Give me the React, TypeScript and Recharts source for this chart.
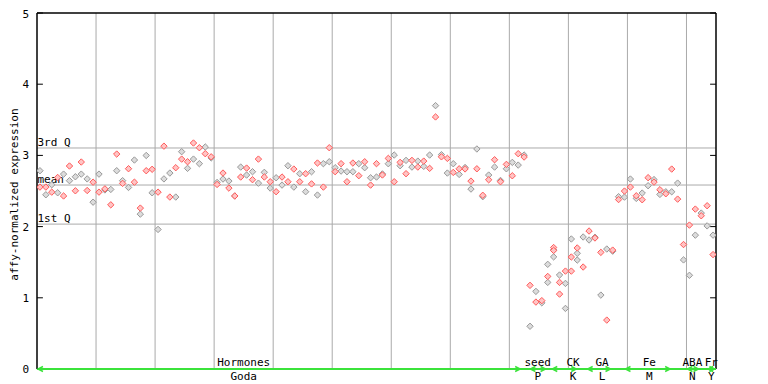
import React from 'react';
import { ScatterChart, Scatter, XAxis, YAxis, ReferenceLine, ReferenceDot } from 'recharts';

// one gray and one red sample per column (column index = position in array)
const grayValues = [
  2.785, 2.447, 2.588, 2.475, 2.737, 2.645, 2.70, 2.737, 2.67, 2.343,
  2.737, 2.515, 2.522, 2.785, 2.645, 2.55, 2.935, 2.175, 2.999, 2.475,
  1.96, 2.67, 2.752, 2.415, 3.052, 2.818, 2.948, 2.884, 3.118, 2.965,
  2.62, 2.668, 2.64, 2.43, 2.836, 2.724, 2.771, 2.61, 2.762, 2.541,
  2.686, 2.583, 2.855, 2.555, 2.743, 2.49, 2.771, 2.443, 2.884, 2.911,
  2.827, 2.78, 2.771, 2.771, 2.884, 2.827, 2.686, 2.696, 2.74, 2.883,
  3.005, 2.855, 2.93, 2.836, 2.92, 2.846, 3.005, 3.699, 3.01, 2.752,
  2.883, 2.733, 2.83, 2.527, 3.09, 2.42, 2.724, 2.836, 2.648, 2.812,
  2.902, 2.864, 3.005, 0.60, 1.09, 0.93, 1.47, 1.672, 1.32, 1.202,
  1.826, 1.625, 1.854, 1.812, 1.85, 1.038, 1.685, 1.655, 2.42, 2.414,
  2.668, 2.396, 2.471, 2.574, 2.66, 2.452, 2.489, 2.489, 2.611, 1.532,
  1.316, 1.88, 2.19, 2.01, 1.88,
];
const redValues = [
  2.555, 2.555, 2.484, 2.69, 2.43, 2.851, 2.503, 2.907, 2.507, 2.624,
  2.484, 2.53, 2.306, 3.019, 2.607, 2.813, 2.624, 2.26, 2.785, 2.805,
  2.484, 3.13, 2.415, 2.827, 2.948, 2.911, 3.174, 3.108, 3.024, 2.98,
  2.592, 2.752, 2.541, 2.43, 2.696, 2.822, 2.659, 2.948, 2.696, 2.63,
  2.49, 2.696, 2.63, 2.808, 2.63, 2.743, 2.60, 2.893, 2.555, 3.108,
  2.771, 2.884, 2.63, 2.893, 2.715, 2.911, 2.583, 2.884, 2.725, 2.958,
  2.63, 2.902, 2.743, 2.93, 2.836, 2.92, 2.818, 3.54, 2.98, 2.958,
  2.761, 2.812, 2.81, 2.639, 2.812, 2.44, 2.658, 2.939, 2.63, 2.874,
  2.714, 3.024, 2.977, 1.175, 0.94, 0.96, 1.30, 1.706, 1.216, 1.375,
  1.573, 1.70, 1.432, 1.938, 1.84, 1.638, 0.687, 1.67, 2.38, 2.499,
  2.555, 2.433, 2.377, 2.687, 2.625, 2.518, 2.461, 2.808, 2.386, 1.748,
  2.021, 2.246, 2.152, 2.293, 1.607,
];
// additional samples in the CK columns
const extraGrayIndex = [86, 87, 89, 91];
const extraGrayValues = [1.216, 1.575, 0.851, 1.53];
const extraRedIndex = [87, 88, 90];
const extraRedValues = [1.665, 1.052, 1.375];

// summary lines
const statNames = ['3rd Q', 'mean', '1st Q'];
const statValues = [3.104, 2.584, 2.035];

// experiment groups along the bottom
const groupTop = ['Hormones', 'seed', 'CK', 'GA', 'Fe', 'ABA', 'Fr'];
const groupBottom = ['Goda', 'P', 'K', 'L', 'M', 'N', 'Y'];
const groupStart = [-0.5, 82.9, 86.6, 92.6, 99.0, 109.5, 113.0];
const groupEnd = [81.5, 85.8, 91.0, 96.8, 106.9, 111.7, 114.4];
const groupLabelAt = [34.5, 84.3, 90.3, 95.2, 103.2, 110.5, 113.7];

const yTicks = [0, 1, 2, 3, 4, 5];
const X_MIN = -0.5;
const X_MAX = grayValues.length - 0.5;
const gridAt = [9.5, 19.5, 29.5, 39.5, 49.5, 59.5, 69.5, 79.5, 89.5, 99.5, 109.5];

const FONT = '"DejaVu Sans Mono", "Liberation Mono", monospace';
const GREEN = '#3be33b';

const grayData = [
  ...grayValues.map((v, i) => ({ x: i, y: v })),
  ...extraGrayIndex.map((x, k) => ({ x, y: extraGrayValues[k] })),
];
const redData = [
  ...redValues.map((v, i) => ({ x: i, y: v })),
  ...extraRedIndex.map((x, k) => ({ x, y: extraRedValues[k] })),
];

const makeDiamond = (stroke: string, fill: string) => (props: any) => {
  const { cx, cy } = props;
  if (cx == null || cy == null) return <g />;
  const r = 3.2;
  return (
    <polygon
      points={`${cx},${cy - r} ${cx + r},${cy} ${cx},${cy + r} ${cx - r},${cy}`}
      stroke={stroke}
      strokeWidth={1}
      fill={fill}
    />
  );
};

const GrayDiamond = makeDiamond('#999999', '#dcdcdc');
const RedDiamond = makeDiamond('#ff5a5a', '#ffc4c4');

export default function App() {
  return (
    <ScatterChart width={760} height={376} margin={{ top: 5, right: 52, bottom: 15, left: 0 }}>
      <XAxis type="number" dataKey="x" domain={[X_MIN, X_MAX]} allowDataOverflow hide height={0} />
      <YAxis
        type="number"
        dataKey="y"
        domain={[0, 5]}
        ticks={yTicks}
        allowDataOverflow
        width={29}
        tickLine={false}
        axisLine={{ stroke: '#000', strokeWidth: 1.5 }}
        tick={{ fill: '#000', fontSize: 11, fontFamily: FONT }}
      />
      {gridAt.map((g) => (
        <ReferenceLine key={'g' + g} x={g} stroke="#aaaaaa" strokeWidth={1} />
      ))}
      {statValues.map((v, k) => (
        <ReferenceLine key={'s' + k} y={v} stroke="#aaaaaa" strokeWidth={1} />
      ))}
      {statValues.map((v, k) => (
        <ReferenceDot
          key={'st' + k}
          x={X_MIN}
          y={v}
          r={0}
          ifOverflow="visible"
          shape={(p: any) => (
            <text x={p.cx + 0.5} y={p.cy - 2} fontSize={11} fontFamily={FONT} fill="#000">
              {statNames[k]}
            </text>
          )}
        />
      ))}
      <ReferenceLine y={5} stroke="#000" strokeWidth={1.5} ifOverflow="visible" />
      <ReferenceLine x={X_MAX} stroke="#000" strokeWidth={1.5} ifOverflow="visible" />
      {yTicks.map((t) => (
        <ReferenceLine
          key={'tl' + t}
          segment={[{ x: X_MIN, y: t }, { x: X_MIN + 1, y: t }]}
          stroke="#000"
          ifOverflow="visible"
        />
      ))}
      {yTicks.map((t) => (
        <ReferenceLine
          key={'tr' + t}
          segment={[{ x: X_MAX - 1, y: t }, { x: X_MAX, y: t }]}
          stroke="#000"
          ifOverflow="visible"
        />
      ))}
      <ReferenceDot
        x={X_MIN}
        y={2.45}
        r={0}
        ifOverflow="visible"
        shape={(p: any) => (
          <text
            x={p.cx - 19}
            y={p.cy}
            transform={`rotate(-90 ${p.cx - 19} ${p.cy})`}
            textAnchor="middle"
            fontSize={11}
            fontFamily={FONT}
            fill="#000"
          >
            affy-normalized expression
          </text>
        )}
      />
      <Scatter data={grayData} isAnimationActive={false} shape={GrayDiamond} />
      <Scatter data={redData} isAnimationActive={false} shape={RedDiamond} />
      <ReferenceLine
        segment={[{ x: X_MIN, y: 0 }, { x: X_MAX, y: 0 }]}
        stroke={GREEN}
        strokeWidth={2}
        ifOverflow="visible"
      />
      {groupStart.map((s, k) => (
        <ReferenceDot
          key={'as' + k}
          x={s}
          y={0}
          r={0}
          ifOverflow="visible"
          shape={(p: any) => (
            <polyline
              points={`${p.cx + 6},${p.cy - 2.5} ${p.cx + 1},${p.cy} ${p.cx + 6},${p.cy + 2.5}`}
              stroke={GREEN}
              strokeWidth={1.5}
              fill="none"
            />
          )}
        />
      ))}
      {groupEnd.map((e, k) => (
        <ReferenceDot
          key={'ae' + k}
          x={e}
          y={0}
          r={0}
          ifOverflow="visible"
          shape={(p: any) => (
            <polyline
              points={`${p.cx - 6},${p.cy - 2.5} ${p.cx - 1},${p.cy} ${p.cx - 6},${p.cy + 2.5}`}
              stroke={GREEN}
              strokeWidth={1.5}
              fill="none"
            />
          )}
        />
      ))}
      {groupLabelAt.map((c, k) => (
        <ReferenceDot
          key={'gl' + k}
          x={c}
          y={0}
          r={0}
          ifOverflow="visible"
          shape={(p: any) => (
            <g>
              <text x={p.cx} y={p.cy - 3} textAnchor="middle" fontSize={11} fontFamily={FONT} fill="#000">
                {groupTop[k]}
              </text>
              <text x={p.cx} y={p.cy + 11} textAnchor="middle" fontSize={11} fontFamily={FONT} fill="#000">
                {groupBottom[k]}
              </text>
            </g>
          )}
        />
      ))}
    </ScatterChart>
  );
}
